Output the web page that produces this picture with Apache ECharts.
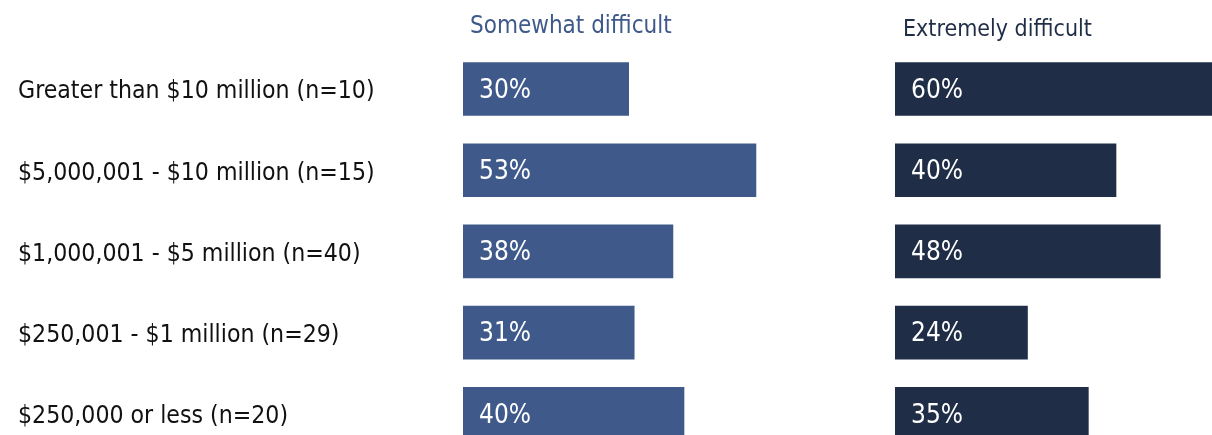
<!DOCTYPE html>
<html>
<head>
<meta charset="utf-8">
<script src="https://cdn.jsdelivr.net/npm/echarts@6/dist/echarts.min.js"></script>
<style>
  html, body { margin: 0; padding: 0; background: #ffffff; }
  #chart { width: 1212px; height: 435px; }
</style>
</head>
<body>
<div id="chart"></div>
<script>
// Revenue bands and share of respondents per difficulty level
const categories = [
  'Greater than $10 million (n=10)',
  '$5,000,001 - $10 million (n=15)',
  '$1,000,001 - $5 million (n=40)',
  '$250,001 - $1 million (n=29)',
  '$250,000 or less (n=20)'
];
const seriesNames = ['Somewhat difficult', 'Extremely difficult'];
const somewhatValues = [30, 53, 38, 31, 40];
const extremelyValues = [60, 40, 48, 24, 35];

const FONT = '"DejaVu Sans Condensed", "Liberation Sans Narrow", sans-serif';
const BLUE = '#3f5a8a';
const NAVY = '#1f2d47';

const chart = echarts.init(document.getElementById('chart'), null, { renderer: 'canvas' });

// Both panels share the same layout; the last row and the longest bar run past the canvas edge
const gridTop = 48.4;
const gridHeight = 406;
const panelWidth = 332;

function barSeries(name, data, color, idx) {
  return {
    name: name,
    type: 'bar',
    xAxisIndex: idx,
    yAxisIndex: idx,
    data: data,
    barCategoryGap: '34%',
    clip: false,
    itemStyle: { color: color },
    silent: true,
    label: {
      show: true,
      position: 'insideLeft',
      distance: 16,
      offset: [0, 2],
      color: '#ffffff',
      fontFamily: FONT,
      fontSize: 26,
      formatter: p => p.value + '%'
    }
  };
}

chart.setOption({
  animation: false,
  backgroundColor: '#ffffff',
  title: [
    {
      text: seriesNames[0],
      left: 465, top: 10,
      textStyle: { fontFamily: FONT, fontSize: 24, fontWeight: 'normal', color: BLUE }
    },
    {
      text: seriesNames[1],
      left: 898, top: 14,
      textStyle: { fontFamily: FONT, fontSize: 23, fontWeight: 'normal', color: NAVY }
    }
  ],
  grid: [
    { left: 463, top: gridTop, width: panelWidth, height: gridHeight, outerBoundsMode: 'none', containLabel: false },
    { left: 895, top: gridTop, width: panelWidth, height: gridHeight, outerBoundsMode: 'none', containLabel: false }
  ],
  xAxis: [0, 1].map(i => ({
    type: 'value', gridIndex: i, min: 0, max: 60, show: false
  })),
  yAxis: [
    {
      type: 'category', gridIndex: 0, data: categories, inverse: true,
      axisLine: { show: false }, axisTick: { show: false },
      axisLabel: {
        align: 'left', margin: 445,
        formatter: v => '{t|' + v + '}',
        rich: {
          t: {
            fontFamily: FONT, fontSize: 24.6, color: '#111111',
            padding: [6, 0, 0, 0]
          }
        }
      }
    },
    {
      type: 'category', gridIndex: 1, data: categories, inverse: true,
      show: false
    }
  ],
  series: [
    barSeries(seriesNames[0], somewhatValues, BLUE, 0),
    barSeries(seriesNames[1], extremelyValues, NAVY, 1)
  ]
});
</script>
</body>
</html>
